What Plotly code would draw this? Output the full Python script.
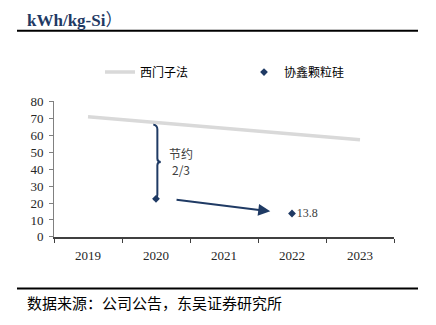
import plotly.graph_objects as go

# Electricity consumption per kg of polysilicon (kWh/kg-Si)
years = ["2019", "2020", "2021", "2022", "2023"]
siemens = [71.0, 67.5, 64.2, 60.8, 57.4]          # 西门子法
gcl_granular = [None, 22.5, None, 13.8, None]      # 协鑫颗粒硅
gcl_labels = ["", "", "", "13.8", ""]

NAVY = "#1f3a64"
GRAY_LINE = "#d9d9d9"
SERIF = "Liberation Serif, Times New Roman, serif"
CJK = "Noto Sans CJK SC, sans-serif"

W, H = 436, 325
x_idx = list(range(len(years)))

fig = go.Figure()
fig.add_trace(go.Scatter(
    x=x_idx, y=siemens, mode="lines", name="西门子法",
    line=dict(color=GRAY_LINE, width=3.5),
))
fig.add_trace(go.Scatter(
    x=x_idx, y=gcl_granular, mode="markers+text", name="协鑫颗粒硅",
    marker=dict(symbol="diamond", size=6, color=NAVY),
    text=gcl_labels, textposition="middle right",
    textfont=dict(family=SERIF, size=12, color="#404040"),
))

# brace marking the saving between the two processes in 2020
i20 = years.index("2020")
xb = i20 + 0.02
y_lo = gcl_granular[i20]
y_hi = siemens[i20] - 1.5
y_mid = (y_lo + y_hi) / 2
brace = (
    f"M {xb-0.06},{y_hi+0.3} Q {xb},{y_hi} {xb},{y_hi-2.5} "
    f"L {xb},{y_mid+2} Q {xb},{y_mid} {xb+0.05},{y_mid} "
    f"Q {xb},{y_mid} {xb},{y_mid-2} "
    f"L {xb},{y_lo+2.5} Q {xb},{y_lo} {xb-0.06},{y_lo-0.3}"
)
fig.add_shape(type="path", path=brace, xref="x", yref="y",
              line=dict(color=NAVY, width=2))
fig.add_annotation(x=i20 + 0.16, y=y_mid, xref="x", yref="y",
                   text="节约<br>2/3", showarrow=False, xanchor="left",
                   align="center",
                   font=dict(family=CJK, size=12, color="#404040"))

# arrow from the 2020 point towards the 2022 point
i22 = years.index("2022")
fig.add_annotation(
    x=i22 - 0.32, y=gcl_granular[i22] + 1.3, xref="x", yref="y",
    ax=i20 + 0.28, ay=gcl_granular[i20] - 0.5, axref="x", ayref="y",
    text="", showarrow=True, arrowhead=2, arrowsize=1.2, arrowwidth=2,
    arrowcolor=NAVY,
)

# header and footer
fig.add_annotation(x=25 / W, y=1 - 12 / H, xref="paper", yref="paper",
                   text=("<b>kWh/kg-Si</b>"
                         "<span style='font-family:Noto Sans CJK SC'>）</span>"),
                   showarrow=False, xanchor="left", yanchor="middle",
                   font=dict(family=SERIF, size=17, color=NAVY))
fig.add_annotation(x=25 / W, y=1 - 310 / H, xref="paper", yref="paper",
                   text="数据来源：公司公告，东吴证券研究所", showarrow=False,
                   xanchor="left", yanchor="middle",
                   font=dict(family=CJK, size=15, color="black"))
for y_px in (25, 295):
    fig.add_shape(type="line", xref="paper", yref="paper",
                  x0=17 / W, x1=418 / W, y0=1 - y_px / H, y1=1 - y_px / H,
                  line=dict(color="black", width=2))

fig.update_layout(
    width=W, height=H,
    margin=dict(l=0, r=0, t=0, b=0),
    paper_bgcolor="white", plot_bgcolor="white",
    showlegend=True,
    legend=dict(orientation="h", x=100 / W, y=1 - 53 / H,
                xanchor="left", yanchor="top",
                font=dict(family=CJK, size=12, color="black"),
                entrywidth=99, itemwidth=30, bgcolor="rgba(0,0,0,0)"),
    xaxis=dict(
        domain=[54 / W, 394 / W],
        range=[-0.5, len(years) - 0.5],
        tickvals=x_idx, ticktext=years, ticks="",
        ticklabelstandoff=6,
        showline=True, linecolor="#404040", linewidth=1.5,
        showgrid=False, zeroline=False,
        tickfont=dict(family=SERIF, size=13, color="#262626"),
        minor=dict(tickvals=[i - 0.5 for i in range(len(years) + 1)],
                   ticks="outside", ticklen=4, tickcolor="#404040", showgrid=False),
    ),
    yaxis=dict(
        domain=[1 - 241 / H, 1 - 99 / H],
        range=[0, 80], dtick=10,
        ticks="outside", ticklen=4, tickcolor="#808080",
        ticklabelstandoff=3,
        showline=True, linecolor="#808080", linewidth=1,
        showgrid=False, zeroline=False,
        tickfont=dict(family=SERIF, size=13, color="#262626"),
    ),
)

fig.write_html("out.html")
